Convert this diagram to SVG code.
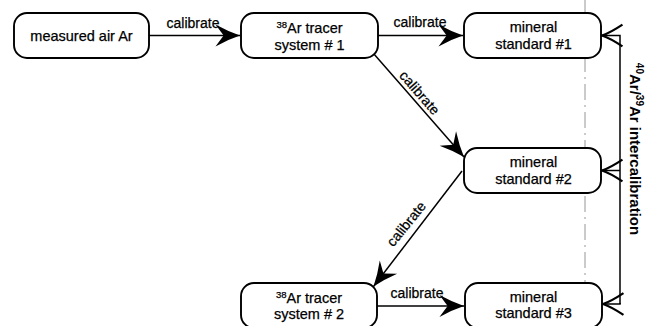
<svg xmlns="http://www.w3.org/2000/svg" width="646" height="326" viewBox="0 0 646 326">
  <style>
    .box { fill: #fff; stroke: #000; stroke-width: 1.9; }
    .t { font-family: "Liberation Sans", Arial, sans-serif; font-size: 14.5px; fill: #000; stroke: #000; stroke-width: 0.25; text-anchor: middle; }
    .lbl { font-family: "Liberation Sans", Arial, sans-serif; font-size: 14px; fill: #000; stroke: #000; stroke-width: 0.25; text-anchor: middle; }
    .sup { font-size: 9.5px; }
    .vt { font-family: "Liberation Sans", Arial, sans-serif; font-size: 15px; font-weight: bold; fill: #000; text-anchor: middle; }
    .vsup { font-size: 10px; }
    .edge { fill: none; stroke: #000; stroke-width: 1.5; }
    .fold { fill: none; stroke: #8a8a8a; stroke-width: 0.9; stroke-dasharray: 16 5 2 5; }
  </style>
  <defs>
    <marker id="arr" markerUnits="userSpaceOnUse" orient="auto" refX="0" refY="0" markerWidth="30" markerHeight="30" viewBox="-20 -10 22 20" overflow="visible">
      <path d="M0,0 Q-9,-3 -18,-8 L-12,0 L-18,8 Q-9,3 0,0 Z" fill="#000"/>
    </marker>
    <marker id="arr2" markerUnits="userSpaceOnUse" orient="auto" refX="0" refY="0" markerWidth="30" markerHeight="30" viewBox="-20 -10 22 20" overflow="visible">
      <path d="M-15,-8 Q-6,-2 0,0 Q-6,2 -15,8" fill="none" stroke="#000" stroke-width="1.6"/>
    </marker>
  </defs>
  <rect width="646" height="326" fill="#fff"/>
  <line class="fold" x1="585" y1="0" x2="585" y2="326"/>

  <g id="connectors">
    <path class="edge" d="M149,35.5 L240,35.5" marker-end="url(#arr)"/>
    <path class="edge" d="M378,35.5 L463,35.5" marker-end="url(#arr)"/>
    <path class="edge" d="M373.5,53.5 L464,157" marker-end="url(#arr)"/>
    <path class="edge" d="M462,171 L373.5,286.5" marker-end="url(#arr)"/>
    <path class="edge" d="M377,306 L464,306" marker-end="url(#arr)"/>
    <path class="edge" d="M620,304 V35.5 H602" marker-end="url(#arr2)"/>
    <path class="edge" d="M620,170.5 H602" marker-end="url(#arr2)"/>
    <path class="edge" d="M620,303 V304 H603" marker-end="url(#arr2)"/>
    <text class="lbl" x="193" y="28">calibrate</text>
    <text class="lbl" x="420" y="27">calibrate</text>
    <text class="lbl" x="417" y="298">calibrate</text>
    <text class="lbl" transform="translate(416,96) rotate(48.8)">calibrate</text>
    <text class="lbl" transform="translate(410,227) rotate(-51)">calibrate</text>
    <text class="vt" transform="translate(630,149) rotate(90)"><tspan class="vsup" dy="-6">40</tspan><tspan dy="6">Ar/</tspan><tspan class="vsup" dy="-6">39</tspan><tspan dy="6">Ar intercalibration</tspan></text>
  </g>

  <g id="measured-air">
    <rect class="box" x="14" y="13" width="135" height="45" rx="13"/>
    <text class="t" x="81.5" y="41">measured air Ar</text>
  </g>
  <g id="tracer1">
    <rect class="box" x="241" y="13" width="137" height="45" rx="13"/>
    <text class="t" x="309.5" y="33"><tspan class="sup" dy="-5">38</tspan><tspan dy="5">Ar tracer</tspan></text>
    <text class="t" x="309.5" y="50">system # 1</text>
  </g>
  <g id="std1">
    <rect class="box" x="464" y="13" width="137" height="45" rx="13"/>
    <text class="t" x="533.5" y="32">mineral</text>
    <text class="t" x="533.5" y="48.5">standard #1</text>
  </g>
  <g id="std2">
    <rect class="box" x="464" y="148" width="137" height="45" rx="13"/>
    <text class="t" x="533.5" y="167">mineral</text>
    <text class="t" x="533.5" y="183.5">standard #2</text>
  </g>
  <g id="tracer2">
    <rect class="box" x="241" y="283" width="136" height="45" rx="13"/>
    <text class="t" x="309" y="303"><tspan class="sup" dy="-5">38</tspan><tspan dy="5">Ar tracer</tspan></text>
    <text class="t" x="309" y="319">system # 2</text>
  </g>
  <g id="std3">
    <rect class="box" x="465" y="283" width="137" height="45" rx="13"/>
    <text class="t" x="533.5" y="302">mineral</text>
    <text class="t" x="533.5" y="318">standard #3</text>
  </g>
</svg>
